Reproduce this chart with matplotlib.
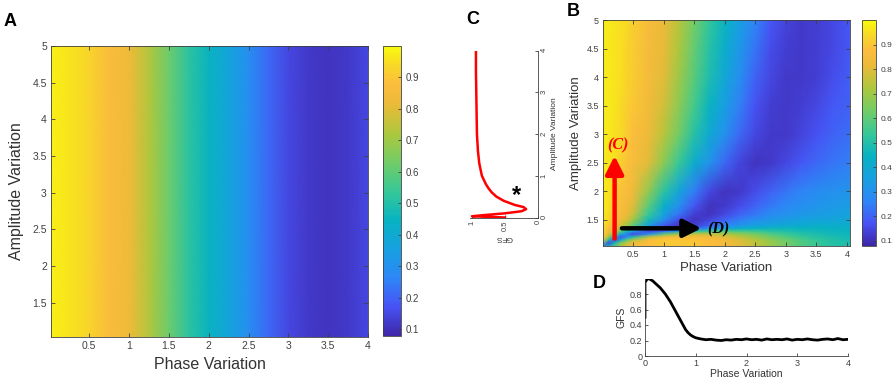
import numpy as np
import matplotlib
matplotlib.use('Agg')
import matplotlib.pyplot as plt
from matplotlib.colors import LinearSegmentedColormap

plt.rcParams['font.family'] = ['Liberation Sans', 'DejaVu Sans']

# ---------------- data ----------------
# panel A: GFS only depends on phase
phase_A = [0.02, 0.25, 0.5, 0.75, 1.0, 1.25, 1.5, 1.75, 2.0, 2.25, 2.5, 2.75, 3.0, 3.25, 3.5, 3.75, 4.0]
gfs_A = [0.98, 0.96, 0.93, 0.87, 0.83, 0.73, 0.62, 0.52, 0.45, 0.37, 0.29, 0.21, 0.15, 0.12, 0.11, 0.12, 0.15]
amp_A = [1.03, 5.0]

# panel B: GFS over phase x amplitude
phase_B = [0.01, 0.1, 0.2, 0.3, 0.4, 0.5, 0.75, 1.0, 1.25, 1.5, 1.75, 2.0, 2.25, 2.5, 2.75, 3.0, 3.25, 3.5, 3.75, 4.05]
amp_B = [1.04, 1.1, 1.15, 1.2, 1.25, 1.3, 1.35, 1.4, 1.5, 1.6, 1.75, 2.0, 2.5, 3.0, 3.5, 4.0, 4.5, 5.0]
gfs_B = [
    [0.20, 0.40, 0.60, 0.72, 0.80, 0.85, 0.88, 0.90, 0.90, 0.90, 0.88, 0.85, 0.80, 0.75, 0.69, 0.63, 0.58, 0.54, 0.51, 0.49],
    [0.60, 0.15, 0.45, 0.65, 0.75, 0.82, 0.88, 0.90, 0.90, 0.90, 0.88, 0.85, 0.80, 0.75, 0.69, 0.63, 0.58, 0.54, 0.51, 0.49],
    [0.85, 0.50, 0.16, 0.40, 0.60, 0.72, 0.86, 0.90, 0.90, 0.89, 0.87, 0.84, 0.79, 0.73, 0.67, 0.62, 0.57, 0.53, 0.50, 0.48],
    [0.90, 0.70, 0.40, 0.18, 0.30, 0.50, 0.75, 0.85, 0.87, 0.86, 0.84, 0.80, 0.75, 0.69, 0.63, 0.58, 0.54, 0.51, 0.49, 0.47],
    [0.92, 0.80, 0.62, 0.42, 0.25, 0.15, 0.30, 0.60, 0.72, 0.76, 0.76, 0.73, 0.68, 0.63, 0.58, 0.54, 0.51, 0.49, 0.47, 0.46],
    [0.93, 0.85, 0.74, 0.60, 0.45, 0.32, 0.14, 0.22, 0.40, 0.52, 0.57, 0.58, 0.57, 0.55, 0.52, 0.50, 0.48, 0.47, 0.46, 0.45],
    [0.94, 0.88, 0.80, 0.70, 0.60, 0.48, 0.24, 0.12, 0.14, 0.22, 0.32, 0.39, 0.43, 0.45, 0.46, 0.46, 0.45, 0.45, 0.44, 0.44],
    [0.95, 0.90, 0.84, 0.78, 0.70, 0.60, 0.36, 0.18, 0.11, 0.13, 0.20, 0.27, 0.32, 0.36, 0.38, 0.40, 0.41, 0.42, 0.42, 0.42],
    [0.96, 0.93, 0.88, 0.84, 0.78, 0.70, 0.48, 0.30, 0.16, 0.11, 0.14, 0.20, 0.25, 0.29, 0.32, 0.34, 0.36, 0.37, 0.38, 0.39],
    [0.96, 0.94, 0.90, 0.86, 0.82, 0.76, 0.54, 0.37, 0.23, 0.13, 0.11, 0.15, 0.20, 0.24, 0.28, 0.30, 0.32, 0.34, 0.35, 0.36],
    [0.97, 0.95, 0.91, 0.87, 0.84, 0.80, 0.60, 0.44, 0.30, 0.18, 0.11, 0.12, 0.16, 0.20, 0.24, 0.27, 0.29, 0.31, 0.33, 0.34],
    [0.97, 0.96, 0.93, 0.89, 0.86, 0.83, 0.68, 0.52, 0.38, 0.25, 0.15, 0.11, 0.12, 0.16, 0.20, 0.23, 0.26, 0.28, 0.30, 0.31],
    [0.97, 0.96, 0.95, 0.92, 0.89, 0.86, 0.80, 0.67, 0.54, 0.42, 0.31, 0.21, 0.14, 0.11, 0.12, 0.15, 0.18, 0.21, 0.23, 0.25],
    [0.97, 0.97, 0.95, 0.94, 0.91, 0.88, 0.83, 0.74, 0.63, 0.51, 0.40, 0.30, 0.21, 0.15, 0.12, 0.12, 0.14, 0.17, 0.20, 0.22],
    [0.97, 0.97, 0.96, 0.94, 0.92, 0.90, 0.84, 0.78, 0.67, 0.56, 0.45, 0.35, 0.25, 0.17, 0.13, 0.12, 0.13, 0.15, 0.18, 0.20],
    [0.97, 0.97, 0.96, 0.95, 0.93, 0.91, 0.85, 0.80, 0.70, 0.59, 0.49, 0.39, 0.29, 0.20, 0.15, 0.12, 0.12, 0.13, 0.16, 0.19],
    [0.97, 0.97, 0.96, 0.95, 0.93, 0.91, 0.85, 0.81, 0.72, 0.61, 0.51, 0.42, 0.32, 0.23, 0.16, 0.13, 0.12, 0.13, 0.15, 0.18],
    [0.97, 0.97, 0.96, 0.95, 0.94, 0.92, 0.86, 0.82, 0.74, 0.63, 0.53, 0.45, 0.35, 0.26, 0.18, 0.14, 0.12, 0.13, 0.15, 0.18],
]

# panel C: GFS along amplitude (red arrow)
amp_C = [0.0, 0.03, 0.06, 0.1, 0.15, 0.2, 0.25, 0.3, 0.4, 0.5, 0.6, 0.7, 0.8, 1.0, 1.3, 1.6, 2.0, 2.5, 3.0, 3.5, 4.0]
gfs_C = [0.5, 1.0, 0.8, 0.5, 0.25, 0.18, 0.22, 0.35, 0.52, 0.63, 0.7, 0.75, 0.79, 0.85, 0.89, 0.91, 0.925, 0.93, 0.935, 0.94, 0.94]

# panel D: GFS along phase (black arrow)
phase_D = [0.0, 0.0, 0.05, 0.1, 0.15, 0.2, 0.25, 0.3, 0.35, 0.4, 0.45, 0.5, 0.55, 0.6, 0.65, 0.7,
           0.75, 0.8, 0.85, 0.9, 0.95, 1.0, 1.1, 1.2, 1.3, 1.4, 1.5, 1.6, 1.7, 1.8, 1.9, 2.0,
           2.1, 2.2, 2.3, 2.4, 2.5, 2.6, 2.7, 2.8, 2.9, 3.0, 3.1, 3.2, 3.3, 3.4, 3.5, 3.6,
           3.7, 3.8, 3.9, 4.0]
gfs_D = [0.5, 0.95, 1.0, 0.99, 0.97, 0.94, 0.91, 0.88, 0.84, 0.8, 0.75, 0.7, 0.64, 0.58, 0.52, 0.46,
         0.4, 0.34, 0.3, 0.27, 0.25, 0.235, 0.22, 0.21, 0.215, 0.205, 0.2, 0.21, 0.205, 0.215, 0.21, 0.22,
         0.21, 0.215, 0.205, 0.22, 0.21, 0.215, 0.21, 0.22, 0.205, 0.215, 0.21, 0.22, 0.21, 0.205, 0.215, 0.22,
         0.21, 0.225, 0.21, 0.215]

cbar_ticks = [0.1, 0.2, 0.3, 0.4, 0.5, 0.6, 0.7, 0.8, 0.9]

# parula-like colormap
parula = LinearSegmentedColormap.from_list('parula', [
    (0.00, (0.2422, 0.1504, 0.6603)),
    (0.10, (0.2810, 0.3228, 0.9579)),
    (0.20, (0.1786, 0.5289, 0.9682)),
    (0.30, (0.0900, 0.6300, 0.8800)),
    (0.40, (0.0300, 0.7000, 0.7600)),
    (0.50, (0.2161, 0.7843, 0.5923)),
    (0.60, (0.4500, 0.8000, 0.4000)),
    (0.70, (0.6800, 0.7800, 0.2400)),
    (0.80, (0.9200, 0.7300, 0.2200)),
    (0.87, (0.9900, 0.7400, 0.2400)),
    (0.93, (0.9700, 0.8400, 0.1600)),
    (1.00, (0.9763, 0.9831, 0.0538)),
])
VMIN, VMAX = 0.078, 1.0

W, H = 892, 386
gray = '#404040'


def box(l, t, r, b):
    return [l / W, 1 - b / H, (r - l) / W, (b - t) / H]


def style(ax, size):
    ax.tick_params(direction='in', length=3, width=0.6, colors=gray, labelsize=size,
                   top=True, right=True, pad=3)
    for s in ax.spines.values():
        s.set_color(gray)
        s.set_linewidth(0.6)


fig = plt.figure(figsize=(8.92, 3.86), dpi=100)

# ---------------- A ----------------
axA = fig.add_axes(box(51, 46, 368, 337))
mA = axA.pcolormesh(phase_A, amp_A, np.tile(gfs_A, (len(amp_A), 1)), shading='gouraud',
                    cmap=parula, vmin=VMIN, vmax=VMAX, rasterized=True)
axA.set_xlim(0.02, 4.0)
axA.set_ylim(1.03, 5.0)
axA.set_xticks([0.5, 1, 1.5, 2, 2.5, 3, 3.5, 4])
axA.set_xticklabels(['0.5', '1', '1.5', '2', '2.5', '3', '3.5', '4'])
axA.set_yticks([1.5, 2, 2.5, 3, 3.5, 4, 4.5, 5])
axA.set_yticklabels(['1.5', '2', '2.5', '3', '3.5', '4', '4.5', '5'])
style(axA, 7.5)
axA.set_xlabel('Phase Variation', fontsize=11.5, color='#333333', labelpad=4)
axA.set_ylabel('Amplitude Variation', fontsize=11.5, color='#333333', labelpad=6)
caxA = fig.add_axes(box(383, 46, 401, 336))
cbA = fig.colorbar(mA, cax=caxA, ticks=cbar_ticks)
caxA.tick_params(direction='in', length=2, width=0.6, colors=gray, labelsize=7)
cbA.outline.set_edgecolor(gray)
cbA.outline.set_linewidth(0.6)
fig.text(10 / W, 1 - 22 / H, 'A', fontsize=13, fontweight='bold', ha='center', va='center')

# ---------------- B ----------------
axB = fig.add_axes(box(603, 20, 850, 246))
mB = axB.pcolormesh(phase_B, amp_B, np.array(gfs_B), shading='gouraud',
                    cmap=parula, vmin=VMIN, vmax=VMAX, rasterized=True)
axB.set_xlim(0.01, 4.05)
axB.set_ylim(1.04, 5.0)
axB.set_xticks([0.5, 1, 1.5, 2, 2.5, 3, 3.5, 4])
axB.set_xticklabels(['0.5', '1', '1.5', '2', '2.5', '3', '3.5', '4'])
axB.set_yticks([1.5, 2, 2.5, 3, 3.5, 4, 4.5, 5])
axB.set_yticklabels(['1.5', '2', '2.5', '3', '3.5', '4', '4.5', '5'])
style(axB, 6.5)
axB.set_xlabel('Phase Variation', fontsize=9.5, color='#333333', labelpad=2)
axB.set_ylabel('Amplitude Variation', fontsize=9.5, color='#333333', labelpad=3)
axB.annotate('', xy=(0.2, 2.62), xytext=(0.2, 1.17),
             arrowprops=dict(arrowstyle='-|>,head_width=0.45,head_length=0.9', color='red',
                             lw=3.2, shrinkA=0, shrinkB=0, mutation_scale=12))
axB.text(0.25, 2.8, '(C)', color='red', fontsize=11.5, fontweight='bold', fontstyle='italic',
         family='Liberation Serif', ha='center', va='center')
axB.annotate('', xy=(1.62, 1.35), xytext=(0.32, 1.35),
             arrowprops=dict(arrowstyle='-|>,head_width=0.45,head_length=0.9', color='black',
                             lw=3.2, shrinkA=0, shrinkB=0, mutation_scale=12))
axB.text(1.9, 1.33, '(D)', color='black', fontsize=11.5, fontweight='bold', fontstyle='italic',
         family='Liberation Serif', ha='center', va='center')
caxB = fig.add_axes(box(862, 20, 876, 246))
cbB = fig.colorbar(mB, cax=caxB, ticks=cbar_ticks)
caxB.tick_params(direction='in', length=2, width=0.6, colors=gray, labelsize=6)
cbB.outline.set_edgecolor(gray)
cbB.outline.set_linewidth(0.6)
fig.text(573 / W, 1 - 12 / H, 'B', fontsize=13, fontweight='bold', ha='center', va='center')

# ---------------- C (rotated profile) ----------------
axC = fig.add_axes(box(470, 50.5, 538, 217.5))
axC.plot(gfs_C, amp_C, color='red', lw=1.8)
axC.set_xlim(1.03, 0)
axC.set_ylim(0, 4)
axC.yaxis.tick_right()
axC.yaxis.set_label_position('right')
axC.set_xticks([0, 0.5, 1])
axC.set_xticklabels(['0', '0.5', '1'])
axC.set_yticks([0, 1, 2, 3, 4])
axC.tick_params(direction='in', length=2.5, width=0.6, colors=gray, labelsize=5.5, pad=2)
axC.tick_params(axis='both', labelrotation=90)
axC.spines['top'].set_visible(False)
axC.spines['left'].set_visible(False)
for s in ['bottom', 'right']:
    axC.spines[s].set_color(gray)
    axC.spines[s].set_linewidth(0.6)
axC.set_xlabel('GFS', fontsize=6, color='#333333', rotation=180, labelpad=2)
axC.set_ylabel('Amplitude Variation', fontsize=6, color='#333333', rotation=90, labelpad=2)
axC.text(0.32, 0.52, '*', fontsize=17, fontweight='bold', ha='center', va='center')
fig.text(473 / W, 1 - 20 / H, 'C', fontsize=13, fontweight='bold', ha='center', va='center')

# ---------------- D ----------------
axD = fig.add_axes(box(645, 278.5, 848, 356))
axD.plot(phase_D, gfs_D, color='black', lw=2)
axD.set_xlim(0, 4)
axD.set_ylim(0, 1)
axD.set_xticks([0, 1, 2, 3, 4])
axD.set_yticks([0, 0.2, 0.4, 0.6, 0.8])
axD.set_yticklabels(['0', '0.2', '0.4', '0.6', '0.8'])
axD.tick_params(direction='in', length=2.5, width=0.6, colors=gray, labelsize=6.5, pad=2)
axD.spines['top'].set_visible(False)
axD.spines['right'].set_visible(False)
for s in ['bottom', 'left']:
    axD.spines[s].set_color(gray)
    axD.spines[s].set_linewidth(0.6)
axD.set_xlabel('Phase Variation', fontsize=7.5, color='#333333', labelpad=1)
axD.set_ylabel('GFS', fontsize=7.5, color='#333333', labelpad=2)
fig.text(599 / W, 1 - 283 / H, 'D', fontsize=13, fontweight='bold', ha='center', va='center')

fig.savefig('out.png', dpi=100)
